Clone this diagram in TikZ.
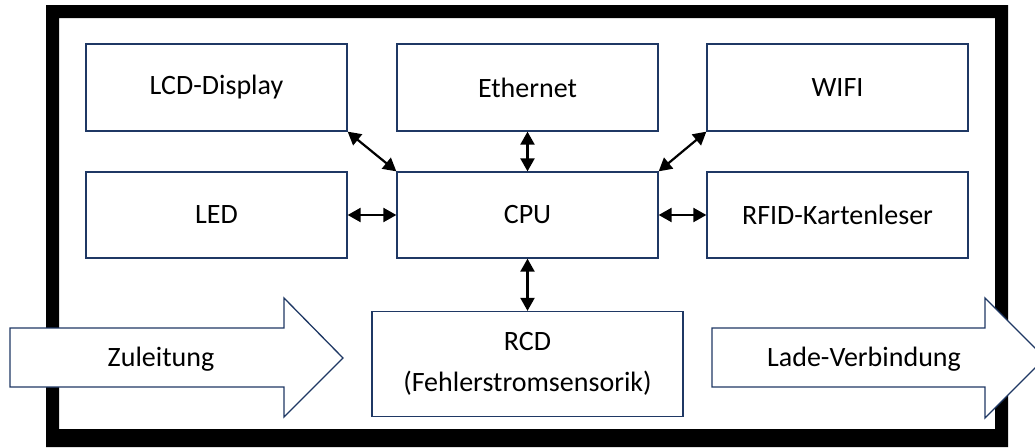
\documentclass[tikz,border=0pt]{standalone}
\usepackage{fontspec}
\setmainfont{Carlito}
\usetikzlibrary{arrows.meta}
\definecolor{navy}{RGB}{31,56,100}
\tikzset{
  blockbox/.style={draw=navy, line width=1.3pt, fill=white, rectangle, inner sep=0pt,
    minimum width=261pt, minimum height=87pt, font=\fontsize{28}{41}\selectfont},
  link/.style={line width=2.2pt, {Triangle[length=13pt,width=14pt]}-{Triangle[length=13pt,width=14pt]}},
  flowarrow/.style={draw=navy, line width=1.3pt, fill=white, line join=miter},
  flowtext/.style={font=\fontsize{28}{32}\selectfont}
}
\begin{document}
\begin{tikzpicture}[x=1pt,y=-1pt]
\useasboundingbox (0,0) rectangle (1035,447);
% housing frame
\fill[black, even odd rule] (46,5) rectangle (1008,447) (59,18) rectangle (995,429);
% function blocks
\node[blockbox] (lcd)  at (216.5,87.5) {LCD-Display};
\node[blockbox] (eth)  at (527.5,87.5) {Ethernet};
\node[blockbox] (wifi) at (837.5,87.5) {WIFI};
\node[blockbox, minimum height=86pt] (led)  at (216.5,215) {LED};
\node[blockbox, minimum height=86pt] (cpu)  at (527.5,215) {CPU};
\node[blockbox, minimum height=86pt] (rfid) at (837.5,215) {RFID-Kartenleser};
\node[blockbox, minimum width=311pt, minimum height=105pt, align=center] (rcd) at (527.5,364)
  {RCD\\(Fehlerstromsensorik)};
% data links
\draw[link] (lcd.south east) -- (cpu.north west);
\draw[link] (eth.south) -- (cpu.north);
\draw[link] (wifi.south west) -- (cpu.north east);
\draw[link] (led.east) -- (cpu.west);
\draw[link] (cpu.east) -- (rfid.west);
\draw[link] (cpu.south) -- (rcd.north);
% power flow
\draw[flowarrow] (10,328) -- (284,328) -- (284,298) -- (343,358) -- (284,417) -- (284,387) -- (10,387) -- cycle;
\node[flowtext] (supply) at (161,359) {Zuleitung};
\draw[flowarrow] (712,328) -- (985,328) -- (985,298) -- (1045,358) -- (985,418) -- (985,387) -- (712,387) -- cycle;
\node[flowtext] (charge) at (864,359) {Lade-Verbindung};
\end{tikzpicture}
\end{document}
